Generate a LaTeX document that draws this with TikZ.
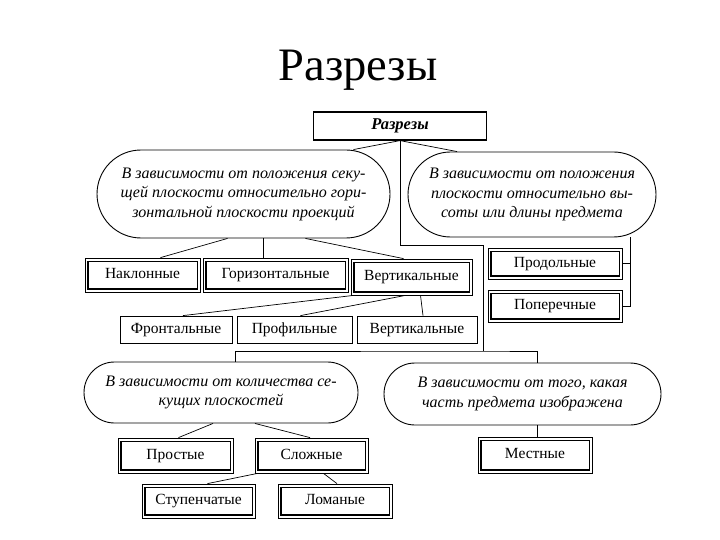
\documentclass[tikz,border=0pt]{standalone}
\usepackage{fontspec}
\setmainfont{Liberation Serif}
\usetikzlibrary{calc,shapes.misc}

\begin{document}
\begin{tikzpicture}[x=1pt,y=-1pt,line join=miter,
  oval/.style={rounded rectangle,draw,line width=.9pt,inner sep=2pt,align=center,
    font=\fontsize{16}{19.5}\selectfont\itshape},
  sbox/.style={draw,line width=.8pt,inner sep=0pt,text height=10.5pt,text depth=3pt,
    font=\fontsize{15.5}{17}\selectfont},
  dbox/.style={sbox,path picture={
    \draw[line width=.8pt] ([shift={(3pt,3pt)}]path picture bounding box.south west)
      rectangle ([shift={(-3pt,-3pt)}]path picture bounding box.north east);
    \draw[line width=2pt] ([shift={(3pt,-3pt)}]path picture bounding box.north west)
      -- ([shift={(3pt,3pt)}]path picture bounding box.south west)
      -- ([shift={(-3pt,3pt)}]path picture bounding box.south east);}},
  link/.style={line width=.7pt}]
\path[use as bounding box] (0,0) rectangle (720,540);
\fill[white] (0,0) rectangle (720,540);
% заголовок
\node (title) at (358,70) {\fontsize{46.5}{50}\selectfont Разрезы};
\node[draw,line width=1.2pt,minimum width=173pt,minimum height=28pt,inner sep=0pt,
  font=\fontsize{16.5}{18}\selectfont\bfseries\itshape] (top) at (400,126) {Разрезы};
% положение секущей плоскости
\node[oval,minimum width=297pt,minimum height=88pt] (lo) at (243.5,194)
  {В зависимости от положения секу-\\щей плоскости относительно гори-\\зонтальной плоскости проекций};
\node[oval,minimum width=252pt,minimum height=85pt] (ro) at (532,194.5)
  {В зависимости от положения\\плоскости относительно вы-\\соты или длины предмета};
\node[dbox,minimum width=115pt,minimum height=34pt] (nakl) at (142.5,275) {Наклонные};
\node[dbox,minimum width=145pt,minimum height=34pt] (gor) at (275.5,275) {Горизонтальные};
\node[dbox,minimum width=121pt,minimum height=36pt] (vert) at (411.5,277) {Вертикальные};
\node[dbox,minimum width=134pt,minimum height=31pt] (prod) at (555,263.5) {Продольные};
\node[dbox,minimum width=134pt,minimum height=32pt] (pop) at (555,306) {Поперечные};
\node[sbox,minimum width=112pt,minimum height=27pt] (front) at (176,329.5) {Фронтальные};
\node[sbox,minimum width=115pt,minimum height=27pt] (prof) at (294.5,329.5) {Профильные};
\node[sbox,minimum width=120pt,minimum height=27pt] (vert2) at (417,329.5) {Вертикальные};
% количество секущих плоскостей и часть предмета
\node[oval,minimum width=278pt,minimum height=61pt] (blo) at (221,392.5)
  {В зависимости от количества се-\\кущих плоскостей};
\node[oval,minimum width=281pt,minimum height=62pt] (bro) at (522.5,394)
  {В зависимости от того, какая\\часть предмета изображена};
\node[dbox,minimum width=115pt,minimum height=35pt] (prost) at (175.5,455.5) {Простые};
\node[dbox,minimum width=113pt,minimum height=35pt] (slozh) at (311.5,455.5) {Сложные};
\node[dbox,minimum width=114pt,minimum height=36pt] (mest) at (535,455) {Местные};
\node[dbox,minimum width=113pt,minimum height=34pt] (stup) at (198.5,501) {Ступенчатые};
\node[dbox,minimum width=114pt,minimum height=34pt] (lom) at (335,501) {Ломаные};
% связи
\coordinate (bend) at (483,245);
\coordinate (j) at (483,351);
\draw[link] (top.south) -- ([xshift=110pt]lo.north);
\draw[link] (top.south) -- ([xshift=-75pt]ro.north);
\draw[link] (top.south) |- (bend) -- (j);
\draw[link] ([xshift=14pt]blo.north) |- (j) -| ([xshift=15pt]bro.north);
\draw[link] ([xshift=-16pt]lo.south) -- ([xshift=18pt]nakl.north);
\draw[link] ([xshift=20pt]lo.south) -- ([xshift=-12pt]gor.north);
\draw[link] ([xshift=62pt]lo.south) -- ([xshift=-8pt]vert.north);
\draw[link] ([xshift=98pt]ro.south) coordinate (brk) |- (pop.east);
\draw[link] (prod.east) -- (prod.east -| brk);
\draw[link] ([xshift=-58pt]vert.south) -- ([xshift=7pt]front.north);
\draw[link] ([xshift=-6pt]vert.south) -- ([xshift=6pt]prof.north);
\draw[link] ([xshift=9pt]vert.south) -- ([xshift=6pt]vert2.north);
\draw[link] ([xshift=-8pt]blo.south) -- ([xshift=3pt]prost.north);
\draw[link] ([xshift=34pt]blo.south) -- ([xshift=-1.5pt]slozh.north);
\draw[link] ([xshift=14.5pt]bro.south) -- ([xshift=2pt]mest.north);
\draw[link] ([xshift=-54pt]slozh.south) -- ([xshift=9pt]stup.north);
\draw[link] ([xshift=12pt]slozh.south) -- ([xshift=2pt]lom.north);
\end{tikzpicture}
\end{document}
